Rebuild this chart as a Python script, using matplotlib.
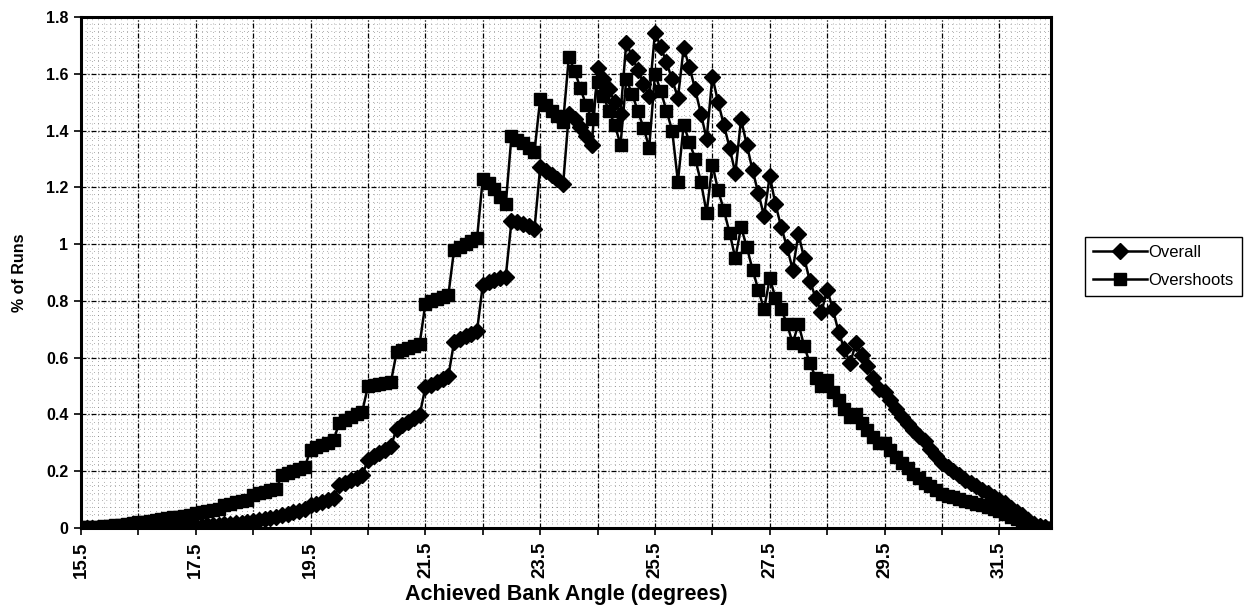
import numpy as np
import matplotlib
matplotlib.use("Agg")
import matplotlib.pyplot as plt
from matplotlib.ticker import MultipleLocator, FixedLocator

plt.rcParams['font.family'] = ['Liberation Sans', 'DejaVu Sans']

# categories: achieved bank angle (degrees), one every 0.1 deg
angles = np.round(np.arange(15.5, 32.45, 0.1), 1)

overall = [
    0.000, 0.000, 0.000, 0.001, 0.001,
    0.001, 0.001, 0.002, 0.002, 0.002,
    0.003, 0.003, 0.003, 0.004, 0.004,
    0.004, 0.005, 0.005, 0.006, 0.006,
    0.007, 0.008, 0.009, 0.010, 0.011,
    0.013, 0.015, 0.017, 0.019, 0.021,
    0.025, 0.028, 0.031, 0.034, 0.037,
    0.045, 0.050, 0.055, 0.060, 0.066,
    0.080, 0.086, 0.092, 0.098, 0.104,
    0.150, 0.160, 0.168, 0.176, 0.186,
    0.240, 0.252, 0.264, 0.276, 0.288,
    0.350, 0.362, 0.374, 0.386, 0.398,
    0.495, 0.505, 0.515, 0.525, 0.535,
    0.655, 0.665, 0.675, 0.685, 0.695,
    0.855, 0.865, 0.872, 0.880, 0.885,
    1.080, 1.078, 1.072, 1.064, 1.052,
    1.270, 1.258, 1.245, 1.228, 1.212,
    1.460, 1.440, 1.412, 1.382, 1.350,
    1.620, 1.580, 1.545, 1.500, 1.460,
    1.710, 1.660, 1.615, 1.565, 1.520,
    1.745, 1.695, 1.640, 1.580, 1.515,
    1.690, 1.625, 1.545, 1.460, 1.370,
    1.590, 1.500, 1.420, 1.340, 1.250,
    1.440, 1.350, 1.260, 1.180, 1.100,
    1.240, 1.140, 1.060, 0.990, 0.910,
    1.035, 0.950, 0.870, 0.810, 0.760,
    0.840, 0.770, 0.690, 0.630, 0.580,
    0.650, 0.610, 0.570, 0.530, 0.490,
    0.480, 0.450, 0.420, 0.390, 0.365,
    0.345, 0.325, 0.305, 0.280, 0.255,
    0.230, 0.215, 0.200, 0.185, 0.170,
    0.160, 0.148, 0.135, 0.122, 0.110,
    0.100, 0.088, 0.072, 0.058, 0.045,
    0.028, 0.015, 0.006, 0.002, 0.000,
]

overshoots = [
    0.002, 0.003, 0.004, 0.005, 0.006,
    0.008, 0.010, 0.012, 0.014, 0.016,
    0.020, 0.022, 0.025, 0.028, 0.030,
    0.034, 0.037, 0.040, 0.043, 0.046,
    0.052, 0.056, 0.060, 0.064, 0.068,
    0.082, 0.086, 0.090, 0.094, 0.098,
    0.118, 0.123, 0.128, 0.133, 0.138,
    0.185, 0.192, 0.200, 0.208, 0.216,
    0.275, 0.284, 0.292, 0.300, 0.310,
    0.370, 0.380, 0.390, 0.400, 0.410,
    0.500, 0.505, 0.508, 0.512, 0.515,
    0.620, 0.628, 0.635, 0.642, 0.648,
    0.790, 0.798, 0.806, 0.814, 0.820,
    0.980, 0.990, 1.000, 1.010, 1.020,
    1.230, 1.215, 1.195, 1.165, 1.140,
    1.380, 1.368, 1.355, 1.340, 1.325,
    1.510, 1.490, 1.470, 1.450, 1.430,
    1.660, 1.610, 1.550, 1.490, 1.440,
    1.570, 1.520, 1.470, 1.420, 1.350,
    1.580, 1.530, 1.470, 1.410, 1.340,
    1.600, 1.540, 1.470, 1.400, 1.220,
    1.420, 1.360, 1.300, 1.220, 1.110,
    1.280, 1.190, 1.120, 1.040, 0.950,
    1.060, 0.990, 0.910, 0.840, 0.770,
    0.880, 0.810, 0.770, 0.720, 0.650,
    0.720, 0.640, 0.580, 0.530, 0.500,
    0.520, 0.480, 0.450, 0.420, 0.390,
    0.400, 0.370, 0.345, 0.320, 0.300,
    0.300, 0.275, 0.250, 0.230, 0.210,
    0.190, 0.175, 0.160, 0.148, 0.135,
    0.120, 0.114, 0.108, 0.102, 0.096,
    0.090, 0.085, 0.080, 0.075, 0.068,
    0.060, 0.050, 0.040, 0.030, 0.020,
    0.012, 0.006, 0.002, 0.000, 0.000,
]

x_tick_labels = ["15.5", "17.5", "19.5", "21.5", "23.5", "25.5", "27.5", "29.5", "31.5"]
y_ticks = [0, 0.2, 0.4, 0.6, 0.8, 1.0, 1.2, 1.4, 1.6, 1.8]
y_tick_labels = ["0", "0.2", "0.4", "0.6", "0.8", "1", "1.2", "1.4", "1.6", "1.8"]

fig = plt.figure(figsize=(12.6, 6.14), dpi=100)
ax = fig.add_axes([81 / 1260, 1 - 528 / 614, (1051 - 81) / 1260, (528 - 17) / 614])

ax.set_xlim(angles[0], angles[-1])
ax.set_ylim(0, 1.8)

# grid
ax.xaxis.set_minor_locator(MultipleLocator(0.1))
ax.yaxis.set_major_locator(FixedLocator(y_ticks))
ax.yaxis.set_minor_locator(MultipleLocator(0.025))
ax.grid(which='minor', color='#666666', linestyle=(0, (1, 5)), linewidth=0.5)
ax.grid(which='major', color='black', linestyle=(0, (4, 1.5, 1, 1.5)), linewidth=0.9)
ax.set_axisbelow(True)

ax.plot(angles, overall, color='black', lw=1.8, marker='D', ms=8.5,
        mfc='black', mec='black', label='Overall', zorder=3)
ax.plot(angles, overshoots, color='black', lw=1.8, marker='s', ms=8,
        mfc='black', mec='black', label='Overshoots', zorder=3)

# ticks every 1 degree, labels every 2 degrees
tick_pos = np.round(np.arange(15.5, 32.45, 1.0), 1)
ax.set_xticks(tick_pos)
ax.set_xticklabels([f"{t:.1f}" if f"{t:.1f}" in x_tick_labels else "" for t in tick_pos],
                   rotation=90, fontsize=13.5, fontweight='bold')
ax.set_yticklabels(y_tick_labels, fontsize=11.5, fontweight='bold')
ax.tick_params(which='major', direction='out', length=5, width=1.2, color='black')
ax.tick_params(which='minor', length=0)
ax.tick_params(axis='y', pad=4)
ax.tick_params(axis='x', pad=5)

for sp in ax.spines.values():
    sp.set_linewidth(2.2)
    sp.set_color('black')

ax.set_xlabel("Achieved Bank Angle (degrees)", fontsize=15.5, fontweight='bold', labelpad=4)
ax.set_ylabel("% of Runs", fontsize=11.5, fontweight='bold', labelpad=14)

leg = ax.legend(loc='upper left', bbox_to_anchor=(1085 / 1260, 1 - 237 / 614),
                bbox_transform=fig.transFigure, borderaxespad=0, fancybox=False,
                edgecolor='black', framealpha=1, fontsize=12, handlelength=3.2,
                handletextpad=0.1, borderpad=0.5, labelspacing=0.75, markerscale=1.0)
leg.get_frame().set_linewidth(1.0)

fig.savefig("out.png", dpi=100, facecolor='white')
